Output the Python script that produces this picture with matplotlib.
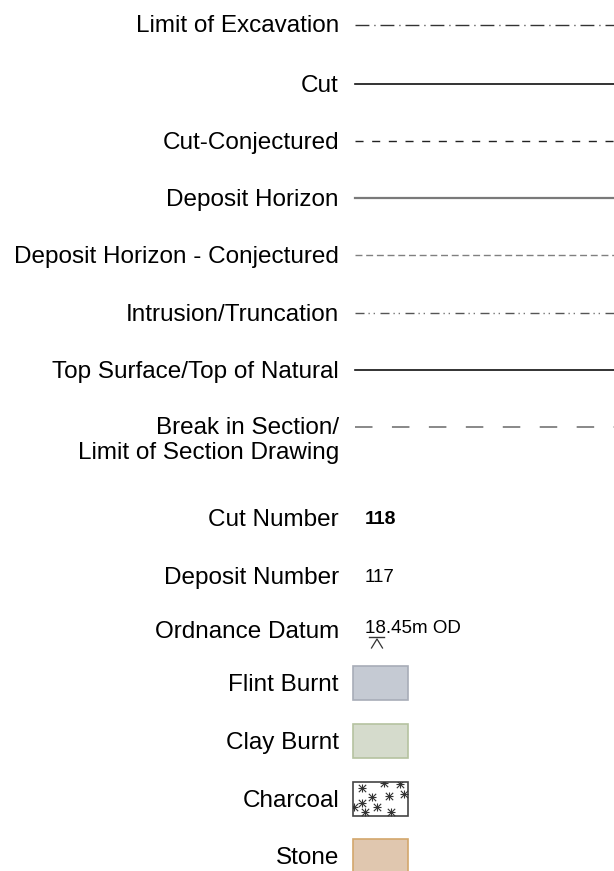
import matplotlib.pyplot as plt
from matplotlib.patches import Rectangle

plt.rcParams['font.family'] = ['Liberation Sans', 'DejaVu Sans']

# line symbols
line_labels = ["Limit of Excavation", "Cut", "Cut-Conjectured", "Deposit Horizon",
               "Deposit Horizon - Conjectured", "Intrusion/Truncation",
               "Top Surface/Top of Natural", "Break in Section/\nLimit of Section Drawing"]
line_colors = ["#333333", "#111111", "#222222", "#7a7a7a",
               "#808080", "#555555", "#111111", "#888888"]
line_styles = [(0, (10, 3.6, 0.8, 3.6)), "-", (0, (5.8, 6.2)), "-",
               (0, (5, 2.7)), (0, (6.5, 2.9, 0.8, 2.9, 0.8, 4.1)), "-", (0, (9, 10))]
line_widths = [1.0, 1.2, 1.0, 1.6, 1.0, 1.0, 1.2, 1.4]

# annotation symbols
num_labels = ["Cut Number", "Deposit Number", "Ordnance Datum"]
num_texts = ["118", "117", "18.45m OD"]
num_weights = ["bold", "normal", "normal"]
num_sizes = [14, 13.5, 13.5]

# fill symbols
fill_labels = ["Flint Burnt", "Clay Burnt", "Charcoal", "Stone"]
fill_faces = ["#c5cad3", "#d5dbcc", "#ffffff", "#e0c7af"]
fill_edges = ["#a8adb8", "#b5c2a0", "#444444", "#d3a76c"]

# charcoal texture offsets from box centre (px)
char_dx = [-19, 3, 19, -9, 8, 23, -19, -4, 10, -16, -27]
char_dy = [-11, -16, -15, -2, -3, -5, 4, 8, 13, 13, 8]

# layout (pixels)
line_rows = [25, 84, 141, 198, 255, 313, 370, 427]
num_rows = [518, 576, 627]
fill_rows = [683, 741, 799, 856]
label_x = 339
sym_x0, sym_x1 = 355, 614
box_x, box_w, box_h = 353, 55, 34

fig = plt.figure(figsize=(6.14, 8.71), dpi=100)
ax = fig.add_axes([0, 0, 1, 1])
ax.set_xlim(0, 614)
ax.set_ylim(871, 0)
ax.axis("off")

fs = 17.5
for lab, y, c, ls, lw in zip(line_labels, line_rows, line_colors, line_styles, line_widths):
    if "\n" in lab:
        ax.text(label_x, y - 10, lab, ha="right", va="top", fontsize=fs, linespacing=1.2)
    else:
        ax.text(label_x, y + 1.5, lab, ha="right", va="center", fontsize=fs)
    ax.plot([sym_x0, sym_x1], [y, y], color=c, linestyle=ls, linewidth=lw)

for lab, y, t, w, s in zip(num_labels, num_rows, num_texts, num_weights, num_sizes):
    ly = y + 5 if lab == "Ordnance Datum" else y + 1.5
    ax.text(label_x, ly, lab, ha="right", va="center", fontsize=fs)
    ax.text(365, y + 1, t, ha="left", va="center", fontsize=s, fontweight=w)

# datum marker under the level
dy = num_rows[2]
ax.plot([369, 384], [dy + 10, dy + 10], color="#333333", lw=1)
ax.plot([371.5, 377, 382.5], [dy + 21, dy + 12, dy + 21], color="#333333", lw=0.9)

for lab, y, fc, ec in zip(fill_labels, fill_rows, fill_faces, fill_edges):
    ax.text(label_x, y + 1.5, lab, ha="right", va="center", fontsize=fs)
    box = Rectangle((box_x, y - box_h / 2), box_w, box_h, facecolor=fc,
                    edgecolor=ec, linewidth=1.2)
    ax.add_patch(box)
    if lab == "Charcoal":
        cx = box_x + box_w / 2
        xs = [cx + d for d in char_dx]
        ys = [y + d for d in char_dy]
        for m in ["+", "x"]:
            pts = ax.scatter(xs, ys, marker=m, s=28, color="#333333", linewidths=0.8)
            pts.set_clip_path(box)

fig.savefig("out.png", dpi=100)
